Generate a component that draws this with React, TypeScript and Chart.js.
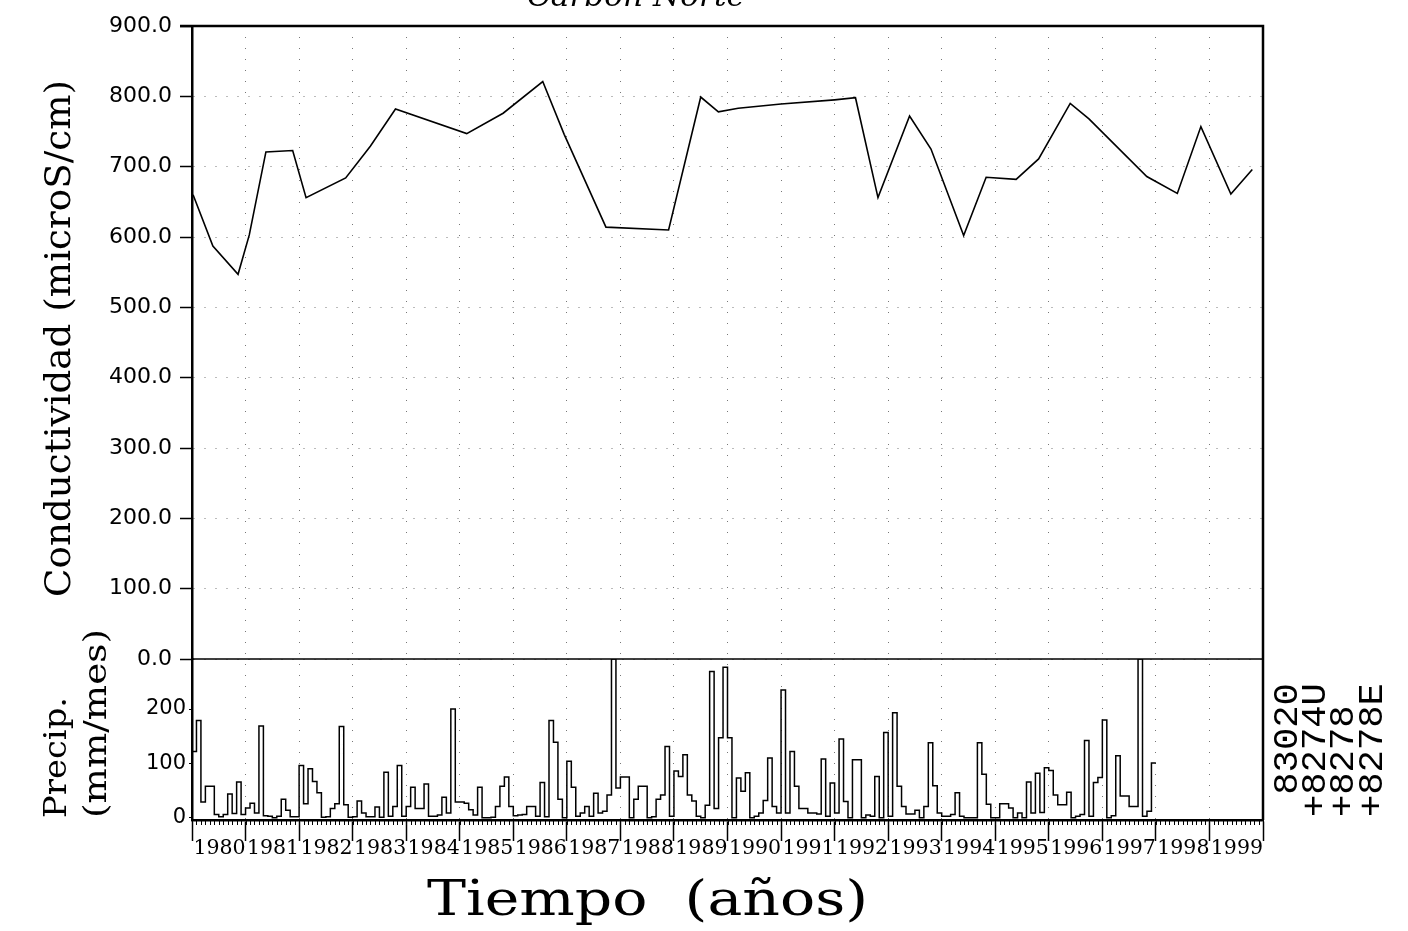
import React, { useEffect, useRef } from 'react';
import { Chart, registerables } from 'chart.js';

Chart.register(...registerables);

// ---------- DATA ----------
const X_MIN = 1979;
const X_MAX = 1999;
const X_TICK_YEARS = [1979, 1980, 1981, 1982, 1983, 1984, 1985, 1986, 1987, 1988, 1989, 1990, 1991, 1992, 1993, 1994, 1995, 1996, 1997, 1998, 1999];

const COND_Y_TICKS = [0, 100, 200, 300, 400, 500, 600, 700, 800, 900];
const PREC_Y_TICKS = [0, 100, 200];

// Conductivity (microS/cm) samples: decimal year and value
const COND_YEAR = [
  1979.02, 1979.39, 1979.86, 1980.07, 1980.38, 1980.88, 1981.13, 1981.87, 1982.33, 1982.8,
  1984.13, 1984.81, 1985.55, 1985.95, 1986.73, 1987.9, 1988.5, 1988.83, 1989.2, 1990.0,
  1991.0, 1991.39, 1991.81, 1992.4, 1992.8, 1993.41, 1993.83, 1994.39, 1994.81, 1995.4,
  1995.75, 1996.83, 1997.4, 1997.84, 1998.4, 1998.8,
];
const COND_VALUE = [
  660, 587, 547, 603, 721, 723, 656, 684, 729, 782,
  747, 776, 821, 746, 614, 610, 799, 778, 783, 789,
  795, 798, 656, 772, 725, 602, 685, 682, 711, 790,
  768, 686, 662, 757, 661, 696,
];

// Monthly precipitation (mm/mes), Jan..Dec
const PRECIP_START_YEAR = 1979;
const P1979 = [122, 179, 29, 58, 58, 6, 2, 6, 44, 8, 66, 6];
const P1980 = [18, 27, 9, 169, 4, 3, 0, 3, 34, 14, 2, 2];
const P1981 = [96, 26, 90, 67, 46, 1, 2, 17, 26, 168, 24, 1];
const P1982 = [2, 31, 9, 2, 2, 20, 1, 84, 3, 21, 96, 3];
const P1983 = [21, 56, 17, 17, 62, 3, 3, 5, 38, 9, 200, 29];
const P1984 = [29, 27, 15, 5, 56, 0, 0, 1, 21, 58, 75, 21];
const P1985 = [4, 5, 6, 21, 21, 3, 65, 2, 179, 139, 34, 0];
const P1986 = [104, 56, 3, 9, 21, 3, 45, 9, 12, 42, 420, 55];
const P1987 = [75, 75, 0, 34, 58, 58, 0, 2, 34, 42, 131, 3];
const P1988 = [86, 76, 116, 42, 31, 3, 0, 23, 269, 17, 147, 277];
const P1989 = [147, 0, 73, 49, 83, 0, 3, 9, 32, 110, 21, 9];
const P1990 = [235, 9, 122, 58, 17, 17, 9, 9, 7, 108, 3, 64];
const P1991 = [9, 145, 30, 0, 107, 107, 0, 5, 3, 76, 0, 157];
const P1992 = [3, 193, 58, 21, 7, 7, 14, 0, 21, 138, 59, 9];
const P1993 = [3, 3, 6, 46, 3, 0, 0, 0, 138, 80, 25, 0];
const P1994 = [0, 26, 26, 18, 0, 9, 0, 66, 9, 82, 10, 92];
const P1995 = [87, 42, 24, 24, 47, 0, 3, 6, 142, 3, 65, 74];
const P1996 = [180, 0, 4, 114, 40, 40, 21, 21, 420, 3, 12, 101];
const PRECIP_YEARS = [P1979, P1980, P1981, P1982, P1983, P1984, P1985, P1986, P1987, P1988, P1989, P1990, P1991, P1992, P1993, P1994, P1995, P1996];
const PREC_MIN = -4;
const PREC_MAX = 292;

const CHART_TITLE = 'Carbón Norte';
const X_TITLE = 'Tiempo  (años)';
const Y_TITLE_TOP = 'Conductividad (microS/cm)';
const Y_TITLE_BOTTOM_1 = 'Precip.';
const Y_TITLE_BOTTOM_2 = '(mm/mes)';
const RIGHT_LABELS = [' 83020', '+8274U', '+8278', '+8278E'];

// ---------- helpers ----------
function drawText(
  ctx: CanvasRenderingContext2D,
  text: string,
  x: number,
  y: number,
  font: string,
  opts: { width?: number; align?: CanvasTextAlign; rotate?: boolean; perChar?: number } = {}
) {
  ctx.save();
  ctx.translate(x, y);
  if (opts.rotate) ctx.rotate(-Math.PI / 2);
  ctx.font = font;
  ctx.fillStyle = '#000';
  ctx.textBaseline = 'alphabetic';
  const w = ctx.measureText(text).width;
  let target = opts.width;
  if (opts.perChar) target = opts.perChar * text.length;
  const sx = target ? target / w : 1;
  ctx.scale(sx, 1);
  ctx.textAlign = opts.align || 'left';
  ctx.fillText(text, 0, 0);
  ctx.restore();
}

const decorPlugin = {
  id: 'decor',
  afterDraw(chart: any) {
    const ctx: CanvasRenderingContext2D = chart.ctx;
    const { left, right, top, bottom } = chart.chartArea;
    const xs = chart.scales.x;
    const yC = chart.scales.yC;
    ctx.save();
    ctx.strokeStyle = '#000';
    ctx.lineCap = 'butt';
    // frame top + right
    ctx.lineWidth = 2.5;
    ctx.beginPath();
    ctx.moveTo(180, top);
    ctx.lineTo(right, top);
    ctx.lineTo(right, bottom);
    ctx.stroke();
    // separator at conductivity 0
    const y0 = yC.getPixelForValue(0);
    ctx.lineWidth = 1.5;
    ctx.beginPath();
    ctx.moveTo(left, y0);
    ctx.lineTo(right, y0);
    ctx.stroke();
    // monthly minor ticks
    ctx.lineWidth = 1;
    ctx.beginPath();
    for (let m = 0; m <= (X_MAX - X_MIN) * 12; m++) {
      const px = Math.round(xs.getPixelForValue(X_MIN + m / 12)) + 0.5;
      ctx.moveTo(px, bottom);
      ctx.lineTo(px, bottom + 5);
    }
    ctx.stroke();
    ctx.restore();

    // titles
    drawText(ctx, CHART_TITLE, 527, 6, 'italic 30px "DejaVu Serif"', { width: 218 });
    drawText(ctx, X_TITLE, 427, 915, '48px "DejaVu Serif"', { width: 441 });
    drawText(ctx, Y_TITLE_TOP, 70, 597, '35px "DejaVu Serif"', { rotate: true, width: 517 });
    drawText(ctx, Y_TITLE_BOTTOM_1, 66, 818, '31px "DejaVu Serif"', { rotate: true, width: 121 });
    drawText(ctx, Y_TITLE_BOTTOM_2, 106, 818, '31px "DejaVu Serif"', { rotate: true, width: 189 });
    const cols = [1297, 1325, 1353, 1382];
    RIGHT_LABELS.forEach((t, i) => {
      drawText(ctx, t, cols[i], 817, '35px "Liberation Mono"', { rotate: true, perChar: 22.3 });
    });
  },
};

export default function App() {
  const ref = useRef<HTMLCanvasElement>(null);
  useEffect(() => {
    const canvas = ref.current;
    if (!canvas) return;

    const precipPoints: { x: number; y: number }[] = [];
    PRECIP_YEARS.forEach((vals, yi) => {
      vals.forEach((v, m) => {
        precipPoints.push({ x: PRECIP_START_YEAR + yi + m / 12, y: Math.min(v, PREC_MAX) });
      });
    });
    const last = precipPoints[precipPoints.length - 1];
    precipPoints.push({ x: PRECIP_START_YEAR + PRECIP_YEARS.length, y: last.y });

    const condPoints = COND_YEAR.map((x, i) => ({ x, y: COND_VALUE[i] }));

    const chart = new Chart(canvas, {
      type: 'line',
      data: {
        datasets: [
          {
            label: 'Conductividad',
            data: condPoints,
            xAxisID: 'x',
            yAxisID: 'yC',
            borderColor: '#000',
            borderWidth: 1.6,
            pointRadius: 0,
            tension: 0,
            fill: false,
          },
          {
            label: 'Precip.',
            data: precipPoints,
            xAxisID: 'x',
            yAxisID: 'yP',
            borderColor: '#000',
            borderWidth: 1.5,
            pointRadius: 0,
            stepped: 'before',
            fill: false,
          },
        ],
      },
      options: {
        animation: false,
        responsive: false,
        devicePixelRatio: 1,
        layout: { padding: { left: 0, top: 26, right: 145, bottom: 0 } },
        plugins: { legend: { display: false }, tooltip: { enabled: false }, title: { display: false } },
        scales: {
          x: {
            type: 'linear',
            position: 'bottom',
            min: X_MIN,
            max: X_MAX,
            afterBuildTicks: (s: any) => {
              s.ticks = X_TICK_YEARS.map((v) => ({ value: v }));
            },
            afterFit: (s: any) => {
              s.height = 111;
            },
            ticks: {
              autoSkip: false,
              maxRotation: 0,
              minRotation: 0,
              align: 'end',
              padding: -5,
              color: '#000',
              font: { family: '"DejaVu Serif"', size: 20.5 },
              callback: (v: any) => (Number(v) === X_MIN ? '' : String(v)),
            },
            grid: {
              color: '#777',
              lineWidth: 1,
              drawOnChartArea: true,
              drawTicks: true,
              tickLength: 21,
              tickColor: '#000',
              tickWidth: 1.5,
              tickBorderDash: [],
            },
            border: { display: true, color: '#000', width: 2.5, dash: [1, 10] },
          },
          yP: {
            type: 'linear',
            position: 'left',
            stack: 'v',
            stackWeight: 161,
            min: PREC_MIN,
            max: PREC_MAX,
            afterBuildTicks: (s: any) => {
              s.ticks = PREC_Y_TICKS.map((v) => ({ value: v }));
            },
            afterFit: (s: any) => {
              s.width = 192;
            },
            ticks: {
              padding: 3,
              color: '#000',
              font: { family: '"DejaVu Sans"', size: 21 },
              callback: (v: any) => String(v),
            },
            grid: { drawOnChartArea: false, drawTicks: true, tickLength: 3, tickColor: '#000', tickWidth: 1 },
            border: { display: true, color: '#000', width: 2.5 },
          },
          yC: {
            type: 'linear',
            position: 'left',
            stack: 'v',
            stackWeight: 633,
            min: 0,
            max: 900,
            afterBuildTicks: (s: any) => {
              s.ticks = COND_Y_TICKS.map((v) => ({ value: v }));
            },
            afterFit: (s: any) => {
              s.width = 192;
            },
            ticks: {
              padding: 8,
              color: '#000',
              font: { family: '"DejaVu Sans"', size: 22 },
              callback: (v: any) => Number(v).toFixed(1),
            },
            grid: {
              color: '#777',
              lineWidth: 1,
              drawOnChartArea: true,
              drawTicks: true,
              tickLength: 12,
              tickColor: '#000',
              tickWidth: 1.5,
              tickBorderDash: [],
            },
            border: { display: true, color: '#000', width: 2.5, dash: [1, 10] },
          },
        },
      } as any,
      plugins: [decorPlugin],
    });
    return () => chart.destroy();
  }, []);

  return (
    <div style={{ position: 'fixed', left: 0, top: 0, width: 1408, height: 931, background: '#fff' }}>
      <canvas ref={ref} width={1408} height={931} style={{ display: 'block', width: 1408, height: 931 }} />
    </div>
  );
}
